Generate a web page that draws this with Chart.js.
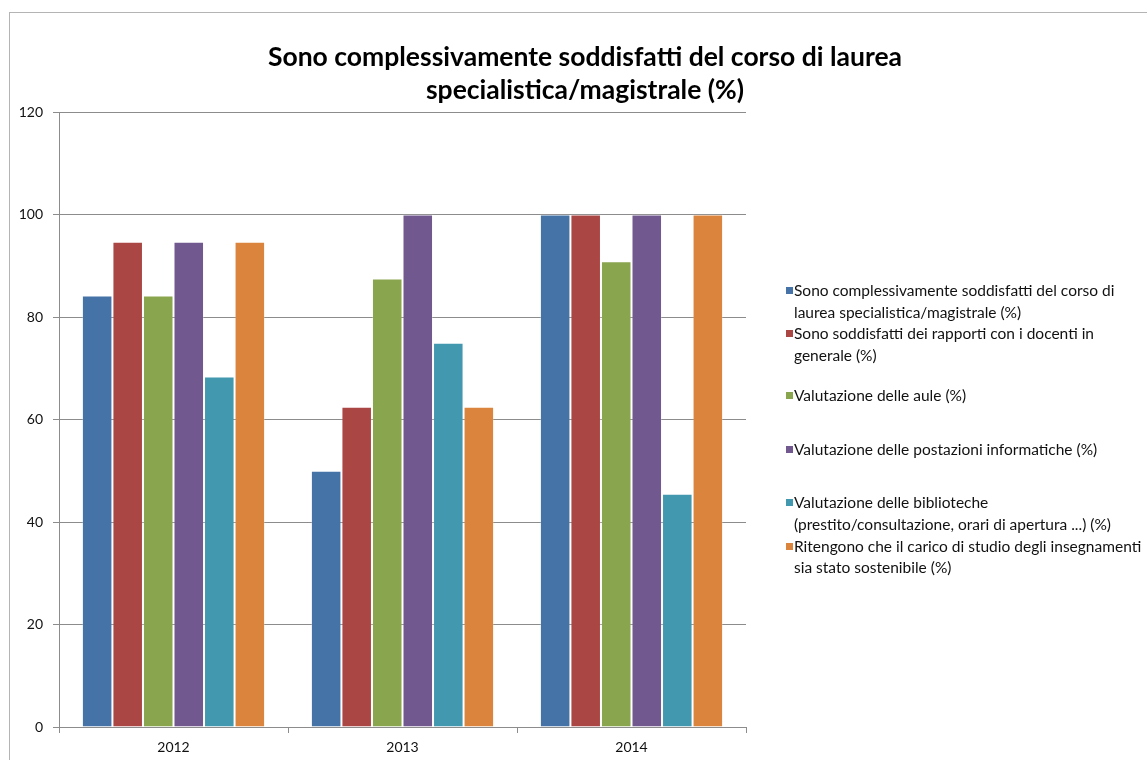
<!DOCTYPE html>
<html>
<head>
<meta charset="utf-8">
<script src="https://cdn.jsdelivr.net/npm/chart.js@4.4.1/dist/chart.umd.min.js"></script>
<style>
  html, body { margin: 0; padding: 0; background: #fff; overflow: hidden; }
  body { width: 1147px; height: 760px; position: relative; }
  #frame { position: absolute; left: 9px; top: 12px; width: 1300px; height: 900px; border: 1px solid #b4b4b4; }
  #chart { position: absolute; left: 0; top: 0; }
  #legend { position: absolute; left: 786px; top: 280px; font-family: Lato, "Open Sans", sans-serif; font-size: 15.5px; color: #111; }
  #legend .item { position: relative; padding-left: 8px; line-height: 21.7px; white-space: nowrap; }
  #legend .item.one { margin: 18px 0 32px; }
  #legend .box { position: absolute; left: 0; top: 7px; width: 7px; height: 7px; }
</style>
</head>
<body>
<div id="frame"></div>
<canvas id="chart" width="1147" height="760"></canvas>
<div id="legend"></div>
<script>
// categorie (anni)
const anni = ["2012", "2013", "2014"];

// valori per serie (%)
const soddisfattiCorso = [84.2, 50, 100];
const rapportiDocenti = [94.7, 62.5, 100];
const valutazioneAule = [84.2, 87.5, 90.9];
const postazioniInformatiche = [94.7, 100, 100];
const biblioteche = [68.4, 75, 45.5];
const caricoStudio = [94.7, 62.5, 100];

// etichette legenda (righe come nell'originale)
const etichette = [
  ["Sono complessivamente soddisfatti del corso di", "laurea specialistica/magistrale (%)"],
  ["Sono soddisfatti dei rapporti con i docenti in", "generale (%)"],
  ["Valutazione delle aule (%)"],
  ["Valutazione delle postazioni informatiche (%)"],
  ["Valutazione delle biblioteche", "(prestito/consultazione, orari di apertura ...) (%)"],
  ["Ritengono che il carico di studio degli insegnamenti", "sia stato sostenibile (%)"],
];

const titolo = ["Sono complessivamente soddisfatti del corso di laurea", "specialistica/magistrale (%)"];

const yMin = 0;
const yMax = 120;
const yStep = 20;

const colori = ["#4572A7", "#AA4643", "#89A54E", "#71588F", "#4198AF", "#DB843D"];
const valori = [soddisfattiCorso, rapportiDocenti, valutazioneAule, postazioniInformatiche, biblioteche, caricoStudio];

Chart.defaults.font.family = "Lato, 'Open Sans', sans-serif";
Chart.defaults.font.size = 14;
Chart.defaults.color = "#111";

const grigio = "#8c8c8c";

// titolo disegnato sul canvas, centrato sopra il grafico
const titlePlugin = {
  id: "titolo",
  afterDraw(chart) {
    const ctx = chart.ctx;
    ctx.save();
    ctx.font = "bold 26.5px Lato, 'Open Sans', sans-serif";
    ctx.fillStyle = "#000";
    ctx.textAlign = "center";
    ctx.textBaseline = "alphabetic";
    titolo.forEach(function (riga, i) {
      ctx.fillText(riga, 585, 66 + i * 33);
    });
    ctx.restore();
  },
};

const ctx = document.getElementById("chart").getContext("2d");

const chart = new Chart(ctx, {
  type: "bar",
  data: {
    labels: anni,
    datasets: valori.map(function (serie, i) {
      return {
        label: etichette[i].join(" "),
        data: serie,
        backgroundColor: colori[i],
        borderColor: "rgba(255,255,255,0.25)",
        borderWidth: 1,
        categoryPercentage: 0.8,
        barPercentage: 1.0,
      };
    }),
  },
  options: {
    responsive: false,
    devicePixelRatio: 1,
    animation: false,
    layout: {
      padding: { left: 0, top: 112, right: 401, bottom: 0 },
    },
    plugins: {
      legend: { display: false },
      title: { display: false },
      tooltip: { enabled: false },
    },
    scales: {
      x: {
        grid: {
          drawOnChartArea: false,
          drawTicks: true,
          tickLength: 6,
          color: grigio,
        },
        border: { display: true, color: grigio },
        ticks: { padding: 6, color: "#111", font: { size: 14 } },
        afterFit: function (scale) {
          scale.height = 33;
        },
      },
      y: {
        min: yMin,
        max: yMax,
        ticks: { stepSize: yStep, padding: 10, color: "#111", font: { size: 14 } },
        grid: {
          color: grigio,
          tickLength: 6,
          drawTicks: true,
        },
        border: { display: true, color: grigio },
        afterFit: function (scale) {
          scale.width = 59;
        },
      },
    },
  },
  plugins: [titlePlugin],
});

// legenda HTML costruita dai dataset del grafico
const legenda = document.getElementById("legend");
chart.data.datasets.forEach(function (ds, i) {
  const item = document.createElement("div");
  item.className = "item" + (etichette[i].length === 1 ? " one" : "");
  const box = document.createElement("span");
  box.className = "box";
  box.style.background = ds.backgroundColor;
  item.appendChild(box);
  etichette[i].forEach(function (riga, j) {
    if (j > 0) item.appendChild(document.createElement("br"));
    item.appendChild(document.createTextNode(riga));
  });
  legenda.appendChild(item);
});
</script>
</body>
</html>
